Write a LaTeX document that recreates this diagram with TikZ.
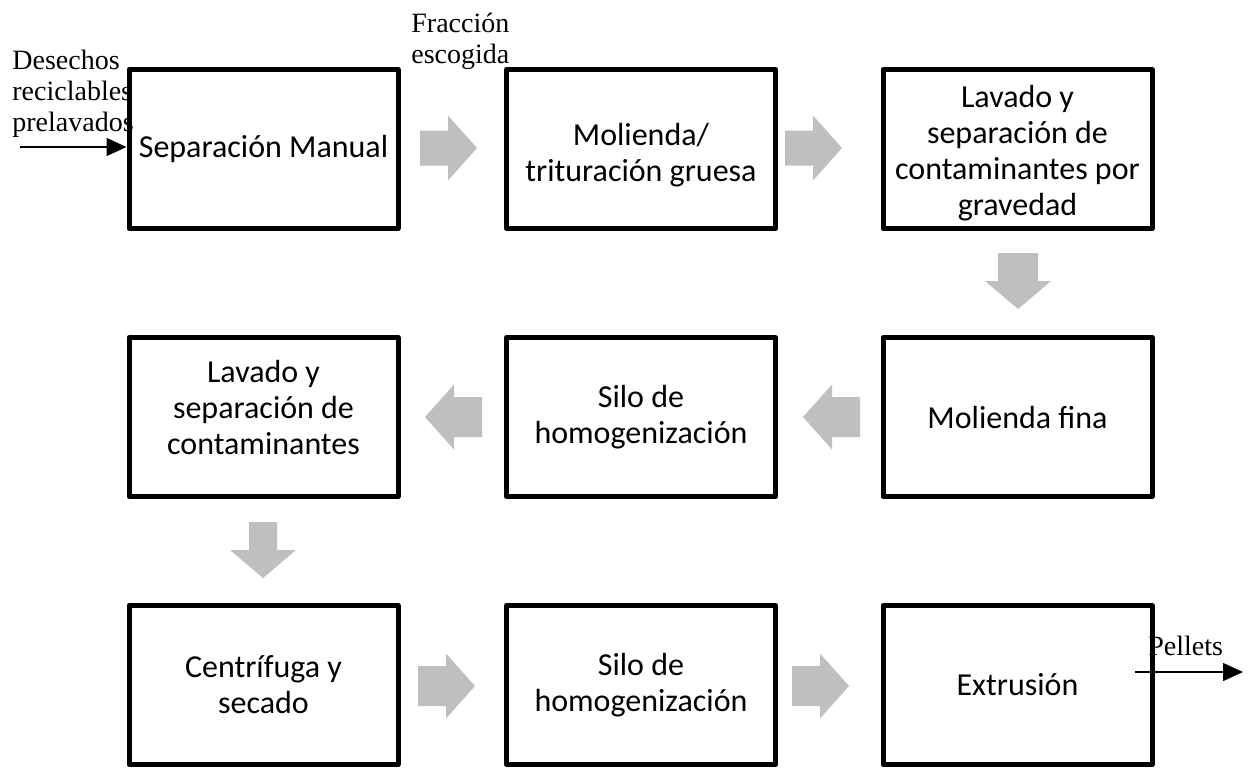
\documentclass[tikz,border=0pt]{standalone}
\usepackage{fontspec}
\setmainfont{Liberation Serif}
\newfontfamily\boxfont{Carlito}
\usetikzlibrary{arrows.meta}
\definecolor{arrowgray}{RGB}{191,191,191}
\tikzset{
  procbox/.style={draw=black, line width=2.5pt, line join=round, minimum width=134.5pt, minimum height=79.5pt, inner sep=0pt},
  boxtext/.style={inner sep=0pt, align=center, font=\boxfont\fontsize{16}{18}\selectfont},
  lbl/.style={inner sep=0pt, align=left, font=\fontsize{14}{15.5}\selectfont},
  flow/.style={line width=0.75pt, -{Triangle[length=10pt,width=9pt]}},
  garrow/.style={fill=arrowgray}
}
% gray block arrows: tail centre (#1,#2), shaft half-width #3
\newcommand\garR[3]{\fill[garrow] ({#1},{#2-#3}) -- ({#1+28},{#2-#3}) -- ({#1+28},{#2-32.5}) -- ({#1+57},{#2}) -- ({#1+28},{#2+32.5}) -- ({#1+28},{#2+#3}) -- ({#1},{#2+#3}) -- cycle;}
\newcommand\garL[3]{\fill[garrow] ({#1},{#2-#3}) -- ({#1-28},{#2-#3}) -- ({#1-28},{#2-32.5}) -- ({#1-57},{#2}) -- ({#1-28},{#2+32.5}) -- ({#1-28},{#2+#3}) -- ({#1},{#2+#3}) -- cycle;}
\newcommand\garD[3]{\fill[garrow] ({#1-#3},{#2}) -- ({#1-#3},{#2+28}) -- ({#1-33},{#2+28}) -- ({#1},{#2+56}) -- ({#1+33},{#2+28}) -- ({#1+#3},{#2+28}) -- ({#1+#3},{#2}) -- cycle;}
\begin{document}
\begin{tikzpicture}[x=0.5pt, y=-0.5pt]
\useasboundingbox (0,0) rectangle (1249,768);
% boxes
\node[procbox] (b1) at (263.5,149) {};
\node[procbox] (b2) at (641,149) {};
\node[procbox] (b3) at (1017.5,149) {};
\node[procbox] (b4) at (1017.5,417) {};
\node[procbox] (b5) at (641,417) {};
\node[procbox] (b6) at (263.5,417) {};
\node[procbox] (b7) at (263.5,685) {};
\node[procbox] (b8) at (641,685) {};
\node[procbox] (b9) at (1017.5,685) {};
% box texts
\node[boxtext] (t1) at (b1.center) {Separación Manual};
\node[boxtext] (t2) at ([yshift=-3pt]b2.center) {Molienda/\\trituración gruesa};
\node[boxtext] (t3) at ([yshift=-2pt]b3.center) {Lavado y\\separación de\\contaminantes por\\gravedad};
\node[boxtext] (t4) at (b4.center) {Molienda fina};
\node[boxtext] (t5) at (b5.center) {Silo de\\homogenización};
\node[boxtext] (t6) at ([yshift=5pt]b6.center) {Lavado y\\separación de\\contaminantes};
\node[boxtext] (t7) at (b7.center) {Centrífuga y\\secado};
\node[boxtext] (t8) at (b8.center) {Silo de\\homogenización};
\node[boxtext] (t9) at (b9.center) {Extrusión};
% gray block arrows
\garR{420}{148}{17.5}
\garR{785}{148}{17.5}
\garD{1018}{253}{20}
\garL{860}{417}{20}
\garL{482}{417}{20}
\garD{263}{522}{14}
\garR{418}{686}{20}
\garR{792}{686}{20}
% labels
\node[lbl, anchor=north west] (lin) at (12,50) {Desechos\\reciclables\\prelavados};
\node[lbl, anchor=north west] (lfr) at (411,13) {Fracción\\escogida};
\node[lbl, anchor=base west] (lpe) at (1148,655) {Pellets};
% thin flow arrows
\coordinate (inS) at (20,147);
\draw[flow] (inS) -- (inS -| b1.west);
\coordinate (outS) at (1135,672);
\coordinate (outE) at (1243,672);
\draw[flow] (outS) -- (outE);
\end{tikzpicture}
\end{document}
